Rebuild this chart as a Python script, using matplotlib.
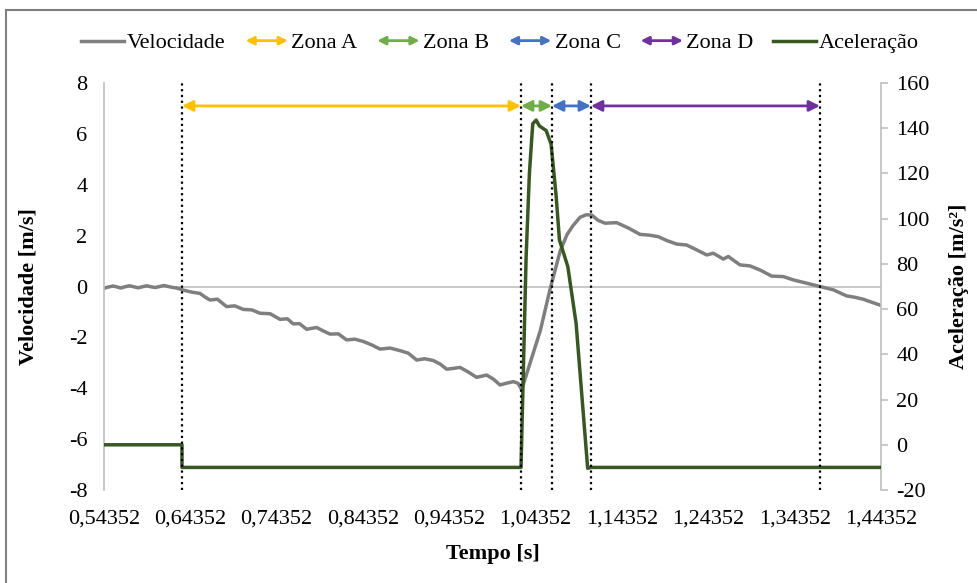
import numpy as np
import matplotlib.pyplot as plt
from matplotlib.patches import FancyArrowPatch, Rectangle
from matplotlib.legend_handler import HandlerBase
from matplotlib.lines import Line2D

plt.rcParams['font.family'] = ['Liberation Serif', 'DejaVu Serif']
plt.rcParams['axes.unicode_minus'] = False

# velocidade [m/s]
t_vel = [0.5435, 0.5485, 0.5540, 0.5590, 0.5630, 0.5680, 0.5730, 0.5780, 0.5830, 0.5880,
         0.5930, 0.5980, 0.6030, 0.6080, 0.6130, 0.6180, 0.6220, 0.6280, 0.6354, 0.6450,
         0.6547, 0.6600, 0.6663, 0.6750, 0.6856, 0.6950, 0.7049, 0.7150, 0.7242, 0.7360,
         0.7474, 0.7560, 0.7628, 0.7700, 0.7783, 0.7899, 0.7960, 0.8053, 0.8150, 0.8246,
         0.8340, 0.8439, 0.8540, 0.8632, 0.8750, 0.8864, 0.8960, 0.9057, 0.9150, 0.9250,
         0.9330, 0.9405, 0.9480, 0.9559, 0.9650, 0.9752, 0.9868, 0.9950, 1.0022, 1.0100,
         1.0176, 1.0230, 1.0274, 1.0370, 1.0490, 1.0600, 1.0720, 1.0800, 1.0870, 1.0949,
         1.1020, 1.1084, 1.1160, 1.1238, 1.1374, 1.1510, 1.1643, 1.1750, 1.1856, 1.1960,
         1.2069, 1.2185, 1.2301, 1.2417, 1.2493, 1.2609, 1.2667, 1.2802, 1.2918, 1.3034,
         1.3169, 1.3304, 1.3420, 1.3575, 1.3729, 1.3883, 1.4038, 1.4130, 1.4230, 1.4330,
         1.4424]
velocidade = [-0.07, -0.02, 0.02, -0.02, -0.06, -0.01, 0.03, -0.01, -0.05, -0.01,
              0.03, -0.01, -0.04, 0.00, 0.04, 0.00, -0.03, -0.06, -0.14, -0.22,
              -0.27, -0.40, -0.53, -0.50, -0.79, -0.76, -0.90, -0.92, -1.05, -1.07,
              -1.29, -1.27, -1.47, -1.46, -1.68, -1.61, -1.72, -1.87, -1.86, -2.10,
              -2.07, -2.16, -2.30, -2.46, -2.42, -2.52, -2.62, -2.89, -2.84, -2.91,
              -3.05, -3.25, -3.22, -3.18, -3.35, -3.57, -3.48, -3.65, -3.87, -3.80,
              -3.74, -3.80, -4.05, -3.02, -1.73, -0.14, 1.40, 2.05, 2.40, 2.72,
              2.82, 2.81, 2.60, 2.49, 2.51, 2.30, 2.05, 2.02, 1.96, 1.80,
              1.67, 1.63, 1.44, 1.24, 1.31, 1.08, 1.18, 0.85, 0.81, 0.65,
              0.41, 0.39, 0.26, 0.13, 0.00, -0.13, -0.37, -0.42, -0.50, -0.62,
              -0.73]

# aceleracao [m/s2]
t_acel = [0.54352, 0.6339, 0.6339, 1.0266, 1.0325, 1.0363, 1.0402, 1.0441, 1.0479,
          1.0518, 1.0557, 1.0614, 1.0673, 1.0711, 1.0808, 1.0904, 1.1038, 1.1076, 1.44352]
aceleracao = [0, 0, -10, -10, 83, 120, 142, 143.6, 141,
              140, 139, 133, 110, 90.6, 78.8, 53.7, -10.4, -10, -10]

# limites das zonas
limites = [0.6339, 1.0266, 1.0625, 1.1076, 1.3729]
zonas = ['Zona A', 'Zona B', 'Zona C', 'Zona D']
cores_zonas = ['#FFC000', '#70AD47', '#4472C4', '#7030A0']
y_setas = 7.1

x_ticks = [0.54352 + 0.1 * k for k in range(10)]
x_labels = [f"{v:.5f}".replace('.', ',') for v in x_ticks]

fig = plt.figure(figsize=(9.77, 5.83), dpi=100)
ax = fig.add_axes([0.1064, 0.1595, 0.7953, 0.6981])
ax2 = ax.twinx()

cinza = '#BFBFBF'
ax.axhline(0, color=cinza, lw=1.2, zorder=1)
ax.plot(t_vel, velocidade, color='#7F7F7F', lw=2.5, zorder=2)
ax2.plot(t_acel, aceleracao, color='#385723', lw=2.5, zorder=3)

for xv in limites:
    ax2.axvline(xv, color='black', lw=1.6, ls=(0, (1, 1.6)), zorder=4)

for i, nome in enumerate(zonas):
    ax2.annotate('', xy=(limites[i + 1], y_setas), xytext=(limites[i], y_setas),
                 xycoords=ax.transData, textcoords=ax.transData,
                 arrowprops=dict(arrowstyle='<|-|>', color=cores_zonas[i], lw=2,
                                 mutation_scale=16, shrinkA=0, shrinkB=0), zorder=5)

ax.set_xlim(0.54352, 1.44352)
ax.set_ylim(-8, 8)
ax2.set_ylim(-20, 160)
ax.set_yticks(range(-8, 9, 2))
ax2.set_yticks(range(-20, 161, 20))
ax.set_xticks(x_ticks)
ax.set_xticklabels(x_labels)

for a in (ax, ax2):
    for s in ('top', 'bottom'):
        a.spines[s].set_visible(False)
ax.spines['right'].set_visible(False)
ax2.spines['left'].set_visible(False)
ax.spines['left'].set_color(cinza)
ax2.spines['right'].set_color(cinza)
ax.spines['left'].set_linewidth(1.2)
ax2.spines['right'].set_linewidth(1.2)

ax.tick_params(axis='y', length=0, labelsize=16, pad=12)
ax.tick_params(axis='x', length=0, labelsize=16, pad=14)
ax2.tick_params(axis='y', length=5, color=cinza, width=1.2, labelsize=16, pad=6)

ax.set_xlabel('Tempo [s]', fontsize=16, fontweight='bold', labelpad=11)
ax.set_ylabel('Velocidade [m/s]', fontsize=16, fontweight='bold', labelpad=22)
ax2.set_ylabel('Aceleração [m/s²]', fontsize=16, fontweight='bold', labelpad=14)


class HandlerSeta(HandlerBase):
    def create_artists(self, legend, orig_handle, xdescent, ydescent,
                       width, height, fontsize, trans):
        y = height / 2 - ydescent
        p = FancyArrowPatch((-xdescent, y), (width - xdescent, y),
                            arrowstyle='<|-|>', mutation_scale=12,
                            color=orig_handle.get_edgecolor(), lw=2,
                            shrinkA=0, shrinkB=0, transform=trans)
        return [p]


handles = [Line2D([], [], color='#7F7F7F', lw=2.5)]
for c in cores_zonas:
    handles.append(FancyArrowPatch((0, 0), (1, 0), color=c))
handles.append(Line2D([], [], color='#385723', lw=2.5))
labels = ['Velocidade'] + zonas + ['Aceleração']
fig.legend(handles, labels, loc='center', bbox_to_anchor=(0.512, 0.926), ncol=6,
           frameon=False, fontsize=16, handlelength=1.9, handletextpad=0.15,
           columnspacing=0.9, handler_map={FancyArrowPatch: HandlerSeta()})

fig.patches.append(Rectangle((0.006, -0.1), 1.2, 1.083, transform=fig.transFigure,
                             fill=False, edgecolor='#7F7F7F', lw=1.5))

fig.savefig('out.png', dpi=100)
